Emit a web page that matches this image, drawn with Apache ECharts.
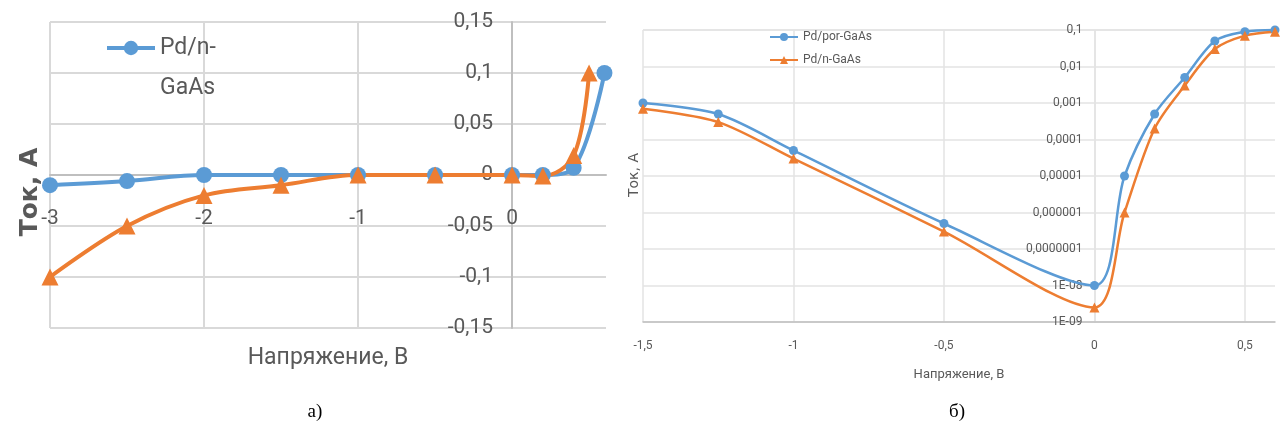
<!DOCTYPE html>
<html>
<head>
<meta charset="utf-8">
<script src="https://cdn.jsdelivr.net/npm/echarts@6/dist/echarts.min.js"></script>
<style>
  html, body { margin: 0; padding: 0; background: #ffffff; }
  #chartA { position: absolute; left: 0; top: 0; width: 625px; height: 436px; }
  #chartB { position: absolute; left: 600px; top: 0; width: 682px; height: 436px; }
</style>
</head>
<body>
<div id="chartA"></div>
<div id="chartB"></div>
<script>
// ---------- Chart (а): linear scale ----------
const xTicksA = ['-3', '-2', '-1', '0'];
const yTicksA = ['-0,15', '-0,1', '-0,05', '0', '0,05', '0,1', '0,15'];
const xA_blue = [-3, -2.5, -2, -1.5, -1, -0.5, 0, 0.2, 0.4, 0.6];
const yA_blue = [-0.01, -0.006, 0, 0, 0, 0, 0, 0, 0.007, 0.1];
const xA_orange = [-3, -2.5, -2, -1.5, -1, -0.5, 0, 0.2, 0.4, 0.5];
const yA_orange = [-0.1, -0.05, -0.02, -0.01, 0, 0, 0, -0.001, 0.019, 0.1];

// ---------- Chart (б): logarithmic scale ----------
const xTicksB = ['-1,5', '-1', '-0,5', '0', '0,5'];
const yTicksB = ['1E-09', '1E-08', '0,0000001', '0,000001', '0,00001', '0,0001', '0,001', '0,01', '0,1'];
const xB = [-1.5, -1.25, -1, -0.5, 0, 0.1, 0.2, 0.3, 0.4, 0.5, 0.6];
const yB_por = [1e-3, 5e-4, 5e-5, 5e-7, 1e-8, 1e-5, 5e-4, 5e-3, 5e-2, 0.09, 0.1];
const yB_n = [7e-4, 3e-4, 3e-5, 3e-7, 2.5e-9, 1e-6, 2e-4, 3e-3, 3e-2, 0.07, 0.09];

const FONT = "Roboto, 'Liberation Sans', sans-serif";
const BLUE = '#5B9BD5';
const ORANGE = '#ED7D31';
const GRAY_TXT = '#595959';

function zip(xs, ys) { return xs.map((x, i) => [x, ys[i]]); }

// axis ranges
const rangeA = { xMin: -3, xMax: 0.61, yMin: -0.15, yMax: 0.15 };
const rangeB = { xMin: -1.5, xMax: 0.6 };
const gridA = { left: 50, top: 22, width: 556, height: 306 };
const gridB = { left: 43, top: 30, width: 632, height: 292 };
// axes cross at zero: shift the axes onto the zero position of the other axis
const xAxisOffsetA = -gridA.height * (0 - rangeA.yMin) / (rangeA.yMax - rangeA.yMin);
const yAxisOffsetA = -gridA.width * (0 - rangeA.xMin) / (rangeA.xMax - rangeA.xMin);
const yAxisOffsetB = -gridB.width * (0 - rangeB.xMin) / (rangeB.xMax - rangeB.xMin);

const chartA = echarts.init(document.getElementById('chartA'), null, { renderer: 'canvas' });
chartA.setOption({
  animation: false,
  grid: Object.assign({ outerBoundsMode: 'none', containLabel: false }, gridA),
  legend: {
    data: ['Pd/n-GaAs'],
    left: 105, top: -12, padding: 0,
    itemWidth: 48, itemHeight: 18,
    lineStyle: { width: 4 },
    formatter: () => '\nPd/n-\nGaAs',
    textStyle: { fontSize: 23, lineHeight: 40, color: GRAY_TXT, fontFamily: FONT }
  },
  xAxis: {
    type: 'value', min: rangeA.xMin, max: rangeA.xMax, interval: 1,
    offset: xAxisOffsetA,
    axisLine: { show: true, onZero: false, lineStyle: { color: '#bfbfbf', width: 2 } },
    axisTick: { show: false },
    axisLabel: {
      margin: 33, showMaxLabel: false, color: GRAY_TXT, fontSize: 21, fontFamily: FONT,
      formatter: v => { const i = Math.round(v + 3); return Math.abs(v + 3 - i) < 1e-6 && xTicksA[i] !== undefined ? xTicksA[i] : ''; }
    },
    splitLine: { show: true, showMaxLine: false, lineStyle: { color: '#d9d9d9', width: 2 } },
    name: 'Напряжение, В', nameLocation: 'middle', nameGap: 172,
    nameTextStyle: { fontSize: 23, color: GRAY_TXT, fontFamily: FONT }
  },
  yAxis: {
    type: 'value', min: rangeA.yMin, max: rangeA.yMax, interval: 0.05,
    offset: yAxisOffsetA,
    axisLine: { show: true, onZero: false, lineStyle: { color: '#bfbfbf', width: 2 } },
    axisTick: { show: false },
    axisLabel: {
      margin: 19, color: GRAY_TXT, fontSize: 21, fontFamily: FONT,
      formatter: v => yTicksA[Math.round((v + 0.15) / 0.05)]
    },
    splitLine: { show: true, lineStyle: { color: '#d9d9d9', width: 2 } }
  },
  graphic: [
    { type: 'text', x: 30, y: 192, rotation: Math.PI / 2,
      style: { text: 'Ток, А', align: 'center', verticalAlign: 'middle', fontSize: 25, fontWeight: 'bold', fill: GRAY_TXT, fontFamily: "'DejaVu Sans', sans-serif" } },
    { type: 'text', x: 315, y: 412,
      style: { text: 'а)', align: 'center', verticalAlign: 'middle', fontSize: 19, fill: '#000', fontFamily: "'Liberation Serif', 'DejaVu Serif', serif" } }
  ],
  series: [
    { name: 'Pd/n-GaAs', type: 'line', data: zip(xA_blue, yA_blue), smooth: 0.35, clip: false,
      symbol: 'circle', symbolSize: 16, itemStyle: { color: BLUE }, lineStyle: { color: BLUE, width: 4 } },
    { name: 'Pd/por-GaAs', type: 'line', data: zip(xA_orange, yA_orange), smooth: 0.35, clip: false,
      symbol: 'triangle', symbolSize: 17, itemStyle: { color: ORANGE }, lineStyle: { color: ORANGE, width: 4 } }
  ]
});

const chartB = echarts.init(document.getElementById('chartB'), null, { renderer: 'canvas' });
chartB.setOption({
  animation: false,
  grid: Object.assign({ outerBoundsMode: 'none', containLabel: false }, gridB),
  legend: {
    data: ['Pd/por-GaAs', 'Pd/n-GaAs'],
    orient: 'vertical', left: 164, top: 26,
    itemWidth: 28, itemHeight: 10, itemGap: 11,
    textStyle: { fontSize: 12, color: GRAY_TXT, fontFamily: FONT }
  },
  xAxis: {
    type: 'value', min: rangeB.xMin, max: rangeB.xMax, interval: 0.5,
    axisLine: { show: true, onZero: false, lineStyle: { color: '#bfbfbf', width: 1.5 } },
    axisTick: { show: false },
    axisLabel: {
      margin: 18, showMaxLabel: false, color: GRAY_TXT, fontSize: 12, fontFamily: FONT,
      formatter: v => { const k = (v + 1.5) / 0.5; const i = Math.round(k); return Math.abs(k - i) < 1e-6 && xTicksB[i] !== undefined ? xTicksB[i] : ''; }
    },
    splitLine: { show: true, showMaxLine: false, lineStyle: { color: '#e3e3e3', width: 1.5 } },
    name: 'Напряжение, В', nameLocation: 'middle', nameGap: 46,
    nameTextStyle: { fontSize: 13, color: GRAY_TXT, fontFamily: FONT }
  },
  yAxis: {
    type: 'log', logBase: 10, min: 1e-9, max: 0.1, interval: 1, splitNumber: 8,
    offset: yAxisOffsetB,
    axisLine: { show: true, onZero: false, lineStyle: { color: '#e3e3e3', width: 1.5 } },
    axisTick: { show: false },
    axisLabel: {
      margin: 12, color: GRAY_TXT, fontSize: 12, fontFamily: FONT,
      formatter: v => yTicksB[Math.round(Math.log10(v)) + 9]
    },
    splitLine: { show: true, lineStyle: { color: '#e3e3e3', width: 1.5 } }
  },
  graphic: [
    { type: 'text', x: 34, y: 175, rotation: Math.PI / 2,
      style: { text: 'Ток, А', align: 'center', verticalAlign: 'middle', fontSize: 14, fill: GRAY_TXT, fontFamily: "'DejaVu Sans', sans-serif" } },
    { type: 'text', x: 357, y: 412,
      style: { text: 'б)', align: 'center', verticalAlign: 'middle', fontSize: 19, fill: '#000', fontFamily: "'Liberation Serif', 'DejaVu Serif', serif" } }
  ],
  series: [
    { name: 'Pd/por-GaAs', type: 'line', data: zip(xB, yB_por), smooth: 0.3, clip: false,
      symbol: 'circle', symbolSize: 9, itemStyle: { color: BLUE }, lineStyle: { color: BLUE, width: 2.5 } },
    { name: 'Pd/n-GaAs', type: 'line', data: zip(xB, yB_n), smooth: 0.3, clip: false,
      symbol: 'triangle', symbolSize: 10, itemStyle: { color: ORANGE }, lineStyle: { color: ORANGE, width: 2.5 } }
  ]
});
</script>
</body>
</html>
